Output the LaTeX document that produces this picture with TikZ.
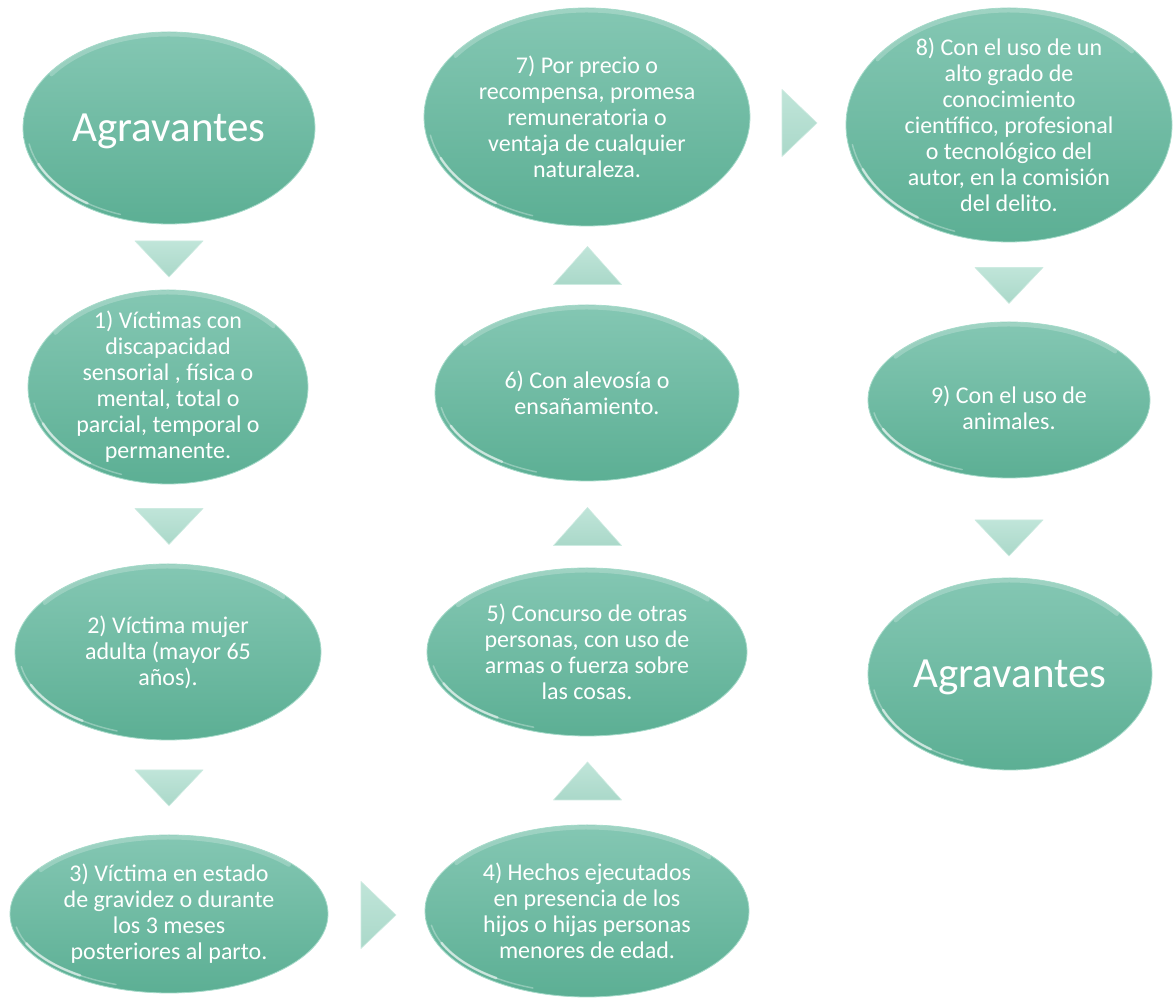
\documentclass[tikz,border=0pt]{standalone}
\usepackage{fontspec}
\setmainfont{Carlito}
\usetikzlibrary{shapes.geometric}
\definecolor{ellTop}{RGB}{132,199,179}
\definecolor{ellBot}{RGB}{92,175,148}
\definecolor{ellRim}{RGB}{165,218,201}
\definecolor{triTop}{RGB}{192,229,217}
\definecolor{triBot}{RGB}{170,216,201}
\definecolor{triEdge}{RGB}{205,235,225}
\tikzset{
  ell/.style={ellipse, inner sep=0pt, top color=ellTop, bottom color=ellBot, draw=ellRim, line width=0.8pt},
  etxt/.style={text=white, align=center, font=\fontsize{24}{26}\selectfont, inner sep=0pt},
  bigtxt/.style={text=white, align=center, font=\fontsize{43}{50}\selectfont, inner sep=0pt},
  tri/.style={top color=triTop, bottom color=triBot, draw=triEdge, line width=0.6pt, line join=round},
  glint/.style={white, line width=2.5pt, opacity=.55, line cap=round},
  sheen/.style={white, line width=4pt, opacity=.22, line cap=round},
}
\newcommand\ellnode[5]{%
  \node[ell, minimum width=#4*2pt, minimum height=#5*2pt] (#1) at (#2,#3) {};
  \pgfmathsetmacro\rxa{#4-4}\pgfmathsetmacro\rya{#5-4}%
  \pgfmathsetmacro\rxb{#4-2.5}\pgfmathsetmacro\ryb{#5-2.5}%
  \draw[glint] (#2,#3) ++(203:\rxa pt and \rya pt) arc[start angle=203, end angle=235, x radius=\rxa pt, y radius=\rya pt];
  \draw[glint, opacity=.3, line width=1.5pt] (#2,#3) ++(190:\rxa pt and \rya pt) arc[start angle=190, end angle=250, x radius=\rxa pt, y radius=\rya pt];
  \draw[sheen] (#2,#3) ++(40:\rxb pt and \ryb pt) arc[start angle=40, end angle=145, x radius=\rxb pt, y radius=\ryb pt];
}
\begin{document}
\begin{tikzpicture}[x=1pt, y=1pt]
  \fill[white] (0,0) rectangle (1176,998);
  \useasboundingbox (0,0) rectangle (1176,998);

  % left column
  \ellnode{a1}{169}{870}{146}{96}
  \node[bigtxt] (ta1) at ([yshift=-3pt]a1.center) {Agravantes};
  \ellnode{e1}{168}{611}{140}{97}
  \node[etxt] (t1) at (e1) {1) Víctimas con\\discapacidad\\sensorial , física o\\mental, total o\\parcial, temporal o\\permanente.};
  \ellnode{e2}{168}{346}{153}{88}
  \node[etxt] (t2) at (e2) {2) Víctima mujer\\adulta (mayor 65\\años).};
  \ellnode{e3}{169}{84}{159}{79}
  \node[etxt] (t3) at (e3) {3) Víctima en estado\\de gravidez o durante\\los 3 meses\\posteriores al parto.};

  % middle column
  \ellnode{e4}{587}{87}{162}{86}
  \node[etxt] (t4) at (e4) {4) Hechos ejecutados\\en presencia de los\\hijos o hijas personas\\menores de edad.};
  \ellnode{e5}{587}{346}{160}{84}
  \node[etxt] (t5) at (e5) {5) Concurso de otras\\personas, con uso de\\armas o fuerza sobre\\las cosas.};
  \ellnode{e6}{587}{605}{152}{88}
  \node[etxt] (t6) at (e6) {6) Con alevosía o\\ensañamiento.};
  \ellnode{e7}{587}{881}{163}{109}
  \node[etxt] (t7) at (e7) {7) Por precio o\\recompensa, promesa\\remuneratoria o\\ventaja de cualquier\\naturaleza.};

  % right column
  \ellnode{e8}{1009}{873}{163}{117}
  \node[etxt] (t8) at (e8) {8) Con el uso de un\\alto grado de\\conocimiento\\científico, profesional\\o tecnológico del\\autor, en la comisión\\del delito.};
  \ellnode{e9}{1009}{598}{141}{78}
  \node[etxt] (t9) at ([yshift=-8pt]e9.center) {9) Con el uso de\\animales.};
  \ellnode{a2}{1010}{324}{142}{96}
  \node[bigtxt] (ta2) at ([yshift=-3pt]a2.center) {Agravantes};

  % arrow coordinates
  \coordinate (d1) at (169,739);
  \coordinate (d2) at (169,471.5);
  \coordinate (d3) at (169,210);
  \coordinate (r1) at (378.5,83);
  \coordinate (u1) at (587.5,217);
  \coordinate (u2) at (587.5,471.5);
  \coordinate (u3) at (587.5,732.5);
  \coordinate (r2) at (799.5,875);
  \coordinate (d4) at (1009,712.5);
  \coordinate (d5) at (1009,460);

  \foreach \c in {d1,d2,d3,d4,d5}
    \draw[tri] (\c) +(-34,18) -- +(34,18) -- +(0,-18) -- cycle;
  \foreach \c in {u1,u2,u3}
    \draw[tri] (\c) +(-34,-19) -- +(34,-19) -- +(0,19) -- cycle;
  \foreach \c in {r1,r2}
    \draw[tri] (\c) +(-17.5,33.5) -- +(17.5,0) -- +(-17.5,-33.5) -- cycle;
\end{tikzpicture}
\end{document}
